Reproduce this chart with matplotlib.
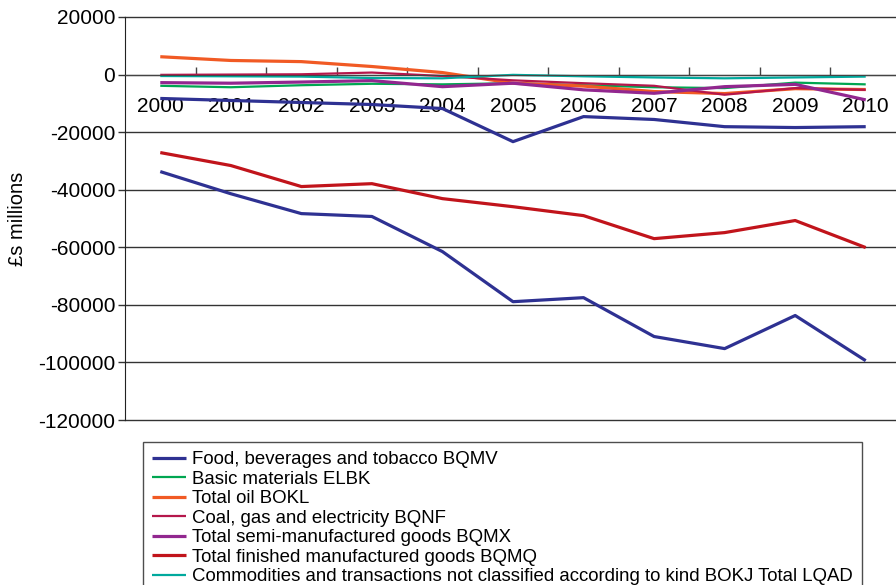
import matplotlib.pyplot as plt
import numpy as np

plt.rcParams['font.family'] = ['Liberation Sans', 'DejaVu Sans']
plt.rcParams['axes.unicode_minus'] = False

years = ['2000', '2001', '2002', '2003', '2004', '2005',
         '2006', '2007', '2008', '2009', '2010']

food = [-8300, -9000, -9700, -10400, -11800, -23300,
        -14600, -15600, -18100, -18400, -18100]
basic = [-3900, -4400, -3700, -3200, -3400, -3000,
         -3700, -4400, -4700, -2800, -3400]
oil = [6200, 4900, 4500, 2800, 700, -3000,
       -4000, -5900, -6600, -4900, -5200]
coal_gas = [-100, 0, 100, 700, -500, -2000,
            -3000, -3900, -7000, -4700, -5300]
semi = [-2800, -3000, -2600, -2100, -4200, -3000,
        -5300, -6500, -4200, -3400, -8800]
finished = [-27100, -31600, -38900, -37900, -43100, -45900,
            -49000, -57000, -54900, -50700, -60100]
not_classified = [-500, -600, -700, -1200, -1300, -100,
                  -600, -1000, -1300, -1000, -700]
total = [-33700, -41400, -48300, -49300, -61500, -78900,
         -77500, -91000, -95200, -83700, -99400]

series = [
    (food, 'Food, beverages and tobacco BQMV', '#2E3192', 2.3),
    (basic, 'Basic materials ELBK', '#00A651', 1.6),
    (oil, 'Total oil BOKL', '#F15A24', 2.3),
    (coal_gas, 'Coal, gas and electricity BQNF', '#B5174B', 1.6),
    (semi, 'Total semi-manufactured goods BQMX', '#92278F', 2.3),
    (finished, 'Total finished manufactured goods BQMQ', '#C1141B', 2.3),
    (not_classified, 'Commodities and transactions not classified '
     'according to kind BOKJ Total LQAD', '#00A99D', 1.6),
    (total, '_total', '#2E3192', 2.3),
]

fig = plt.figure(figsize=(8.96, 5.85), dpi=100)
ax = fig.add_axes([125 / 896, 1 - 420 / 585, 776 / 896, 403 / 585])

x = np.arange(len(years))
for vals, label, color, lw in series:
    ax.plot(x, vals, color=color, lw=lw, label=label, solid_capstyle='butt')

ax.set_xlim(-0.5, len(years) - 0.5)
ax.set_ylim(-120000, 20000)
ax.set_yticks(np.arange(-120000, 20001, 20000))
ax.yaxis.grid(True, color='#333333', lw=1)
for gl in ax.get_ygridlines():
    gl.set_clip_on(False)
ax.set_axisbelow(True)
ax.tick_params(axis='y', labelsize=15, length=5, width=1, pad=2,
               color='#333333')
ax.set_ylabel('£s millions', fontsize=14.5)
ax.yaxis.set_label_coords(-98 / 776, 0.5)

# category axis sits on zero, ticks between categories
ax.spines['bottom'].set_position(('data', 0))
ax.spines['bottom'].set_color('#444444')
ax.spines['top'].set_visible(False)
ax.spines['right'].set_visible(False)
ax.spines['left'].set_color('#222222')
ax.set_xticks(x)
ax.set_xticklabels(years)
ax.set_xticks(x[:-1] + 0.5, minor=True)
ax.tick_params(axis='x', which='major', length=0, pad=16, labelsize=15)
ax.tick_params(axis='x', which='minor', direction='in', length=6,
               width=1, color='#444444')

leg = fig.legend(loc='upper left', bbox_to_anchor=(143 / 896, 1 - 442 / 585),
                 borderaxespad=0, fontsize=13.4, frameon=True, fancybox=False,
                 edgecolor='#222222', handlelength=1.8, handletextpad=0.33,
                 labelspacing=0.13, borderpad=0.5)
leg.get_frame().set_linewidth(1)

fig.savefig('out.png', dpi=100)
